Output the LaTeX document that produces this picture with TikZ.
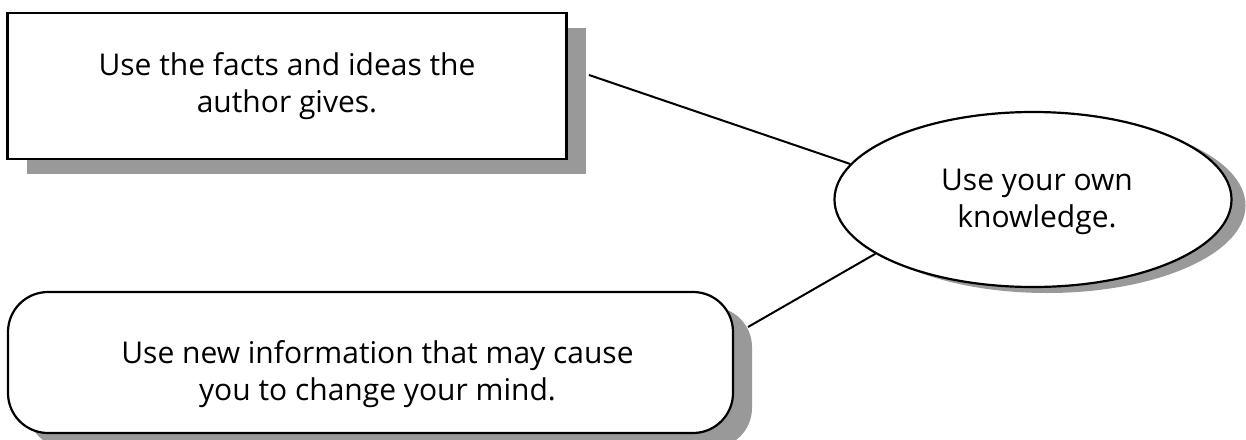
\documentclass[tikz,border=0pt]{standalone}
\usepackage{fontspec}
\setmainfont{Open Sans}
\usetikzlibrary{shadows,shapes.geometric}
\definecolor{shadowgray}{RGB}{153,153,153}
\tikzset{
  box/.style={draw=black, line width=2.2pt, fill=white, inner sep=0pt,
    font=\fontsize{30}{37}\selectfont, align=center},
  label text/.style={inner sep=0pt, font=\fontsize{30}{37}\selectfont, align=center},
  boxshadow/.style={drop shadow={shadow xshift=19pt, shadow yshift=-15pt, fill=shadowgray, opacity=1}},
  ellshadow/.style={drop shadow={shadow xshift=14pt, shadow yshift=-6pt, fill=shadowgray, opacity=1}},
  link/.style={draw=black, line width=2pt}
}
\begin{document}
\begin{tikzpicture}[x=1pt,y=-1pt]
\useasboundingbox (0,0) rectangle (1246,439);
\node[box, boxshadow, rectangle, minimum width=559pt, minimum height=146pt] (facts) at (287,86)
  {Use the facts and ideas the\\author gives.};
\node[box, ellshadow, ellipse, minimum width=397pt, minimum height=175pt] (own) at (1033,199.5) {};
\node[label text] (owntext) at (1037,202) {Use your own\\knowledge.};
\node[box, boxshadow, rectangle, rounded corners=40pt, minimum width=725pt, minimum height=141pt] (newinfo) at (370.5,362.5) {};
\node[label text] (newinfotext) at (377.5,374) {Use new information that may cause\\you to change your mind.};
\coordinate (a1) at (589,75);
\coordinate (a2) at (748,327);
\draw[link] (a1) -- (own.169);
\draw[link] (a2) -- (own.199);
\end{tikzpicture}
\end{document}
